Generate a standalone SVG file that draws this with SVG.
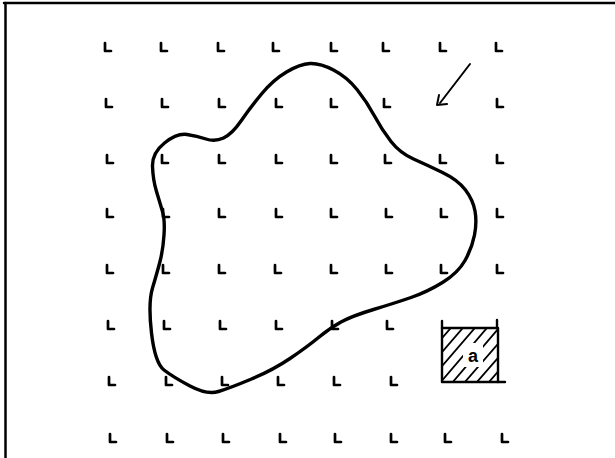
<svg xmlns="http://www.w3.org/2000/svg" xmlns:xlink="http://www.w3.org/1999/xlink" width="615" height="458" viewBox="0 0 615 458">
<style>
.mk{fill:none;stroke:#000;stroke-width:2.7;stroke-linecap:round;stroke-linejoin:round}
.ln{fill:none;stroke:#000;stroke-linecap:round;stroke-linejoin:round}
</style>
<defs>
<path id="m" class="mk" d="M0,-5 V3 H6"/>
<clipPath id="sq"><rect x="442" y="328" width="56" height="54"/></clipPath>
</defs>
<rect width="615" height="458" fill="#fff"/>
<g id="frame" class="ln">
<line x1="5.5" y1="3" x2="5.5" y2="458" stroke-width="2.5"/>
<line x1="4" y1="3" x2="615" y2="3" stroke-width="2.5"/>
</g>
<g id="grid">
<use xlink:href="#m" x="105" y="48"/><use xlink:href="#m" x="161" y="48"/><use xlink:href="#m" x="218" y="48"/><use xlink:href="#m" x="273" y="48"/><use xlink:href="#m" x="331" y="48"/><use xlink:href="#m" x="383" y="48"/><use xlink:href="#m" x="440" y="48"/><use xlink:href="#m" x="496" y="48"/>
<use xlink:href="#m" x="106" y="104"/><use xlink:href="#m" x="162" y="104"/><use xlink:href="#m" x="219" y="104"/><use xlink:href="#m" x="276" y="104"/><use xlink:href="#m" x="331" y="104"/><use xlink:href="#m" x="384" y="104"/><use xlink:href="#m" x="497" y="104"/>
<use xlink:href="#m" x="107" y="160"/><use xlink:href="#m" x="162" y="160"/><use xlink:href="#m" x="219" y="160"/><use xlink:href="#m" x="276" y="160"/><use xlink:href="#m" x="331" y="160"/><use xlink:href="#m" x="385" y="160"/><use xlink:href="#m" x="440" y="160"/><use xlink:href="#m" x="497" y="160"/>
<use xlink:href="#m" x="107" y="214"/><use xlink:href="#m" x="163" y="214"/><use xlink:href="#m" x="219" y="214"/><use xlink:href="#m" x="276" y="214"/><use xlink:href="#m" x="331" y="214"/><use xlink:href="#m" x="386" y="214"/><use xlink:href="#m" x="441" y="214"/><use xlink:href="#m" x="497" y="214"/>
<use xlink:href="#m" x="107" y="270"/><use xlink:href="#m" x="163" y="270"/><use xlink:href="#m" x="219" y="270"/><use xlink:href="#m" x="275" y="270"/><use xlink:href="#m" x="331" y="270"/><use xlink:href="#m" x="386" y="270"/><use xlink:href="#m" x="441" y="270"/><use xlink:href="#m" x="497" y="270"/>
<use xlink:href="#m" x="108" y="326"/><use xlink:href="#m" x="164" y="326"/><use xlink:href="#m" x="220" y="326"/><use xlink:href="#m" x="276" y="326"/><use xlink:href="#m" x="332" y="326"/><use xlink:href="#m" x="387" y="326"/>
<use xlink:href="#m" x="109" y="382"/><use xlink:href="#m" x="166" y="382"/><use xlink:href="#m" x="222" y="382"/><use xlink:href="#m" x="278" y="382"/><use xlink:href="#m" x="334" y="382"/><use xlink:href="#m" x="391" y="382"/>
<use xlink:href="#m" x="110" y="439"/><use xlink:href="#m" x="167" y="439"/><use xlink:href="#m" x="223" y="439"/><use xlink:href="#m" x="280" y="439"/><use xlink:href="#m" x="335" y="439"/><use xlink:href="#m" x="391" y="439"/><use xlink:href="#m" x="445" y="439"/><use xlink:href="#m" x="502" y="439"/>
</g>
<g id="blob">
<path class="ln" stroke-width="3.4" d="M 164.5,143 Q 177,133 187,134.5 Q 197,136 206,139 Q 215,142 223.5,138 Q 232,134 241,121 Q 250,108 261.5,94 Q 273,80 286.5,72 Q 300,64 310,63.5 Q 320,63 333.5,70 Q 347,77 357,89.5 Q 367,102 374.5,116 Q 382,130 391,141.5 Q 400,153 413.5,159 Q 427,165 442.5,172.5 Q 458,180 465.5,190 Q 473,200 475,211 Q 477,222 474.5,235 Q 472,248 465,260.5 Q 458,273 442.5,282.5 Q 427,292 411,297.5 Q 395,303 373.5,309.5 Q 352,316 341,322 Q 330,328 318.5,337.5 Q 307,347 290,358.5 Q 273,370 251.5,379 Q 230,388 218.5,391.5 Q 207,395 190,386 Q 173,377 164,370 Q 155,363 151.5,333 Q 148,303 152.5,288 Q 157,273 160,261.5 Q 163,250 164,235 Q 165,220 162.5,211.5 Q 160,203 156.5,191.5 Q 153,180 152.5,166.5 Q 152,153 164.5,143 Z"/>
</g>
<g id="arrow" class="ln" stroke-width="2">
<line x1="470" y1="64" x2="440" y2="103"/>
<polyline points="439,95 437,105 447,104"/>
</g>
<g id="square-a">
<g clip-path="url(#sq)" class="ln" stroke-width="1.8">
<line x1="430" y1="352" x2="456" y2="322"/>
<line x1="430" y1="366" x2="468" y2="322"/>
<line x1="430" y1="380" x2="480" y2="322"/>
<line x1="434" y1="390" x2="492" y2="322"/>
<line x1="446" y1="390" x2="504" y2="322"/>
<line x1="458" y1="390" x2="510" y2="330"/>
<line x1="470" y1="390" x2="510" y2="344"/>
<line x1="482" y1="390" x2="510" y2="358"/>
</g>
<rect x="463" y="343" width="20" height="24" fill="#fff"/>
<rect x="442" y="328" width="56" height="54" class="ln" stroke-width="2.4"/>
<path class="ln" stroke-width="2.4" d="M442,321 V328 M497,320 V328 M498,382 H505"/>
<text x="473" y="362" font-family="Liberation Sans, sans-serif" font-size="18" font-weight="bold" text-anchor="middle">a</text>
</g>
</svg>
